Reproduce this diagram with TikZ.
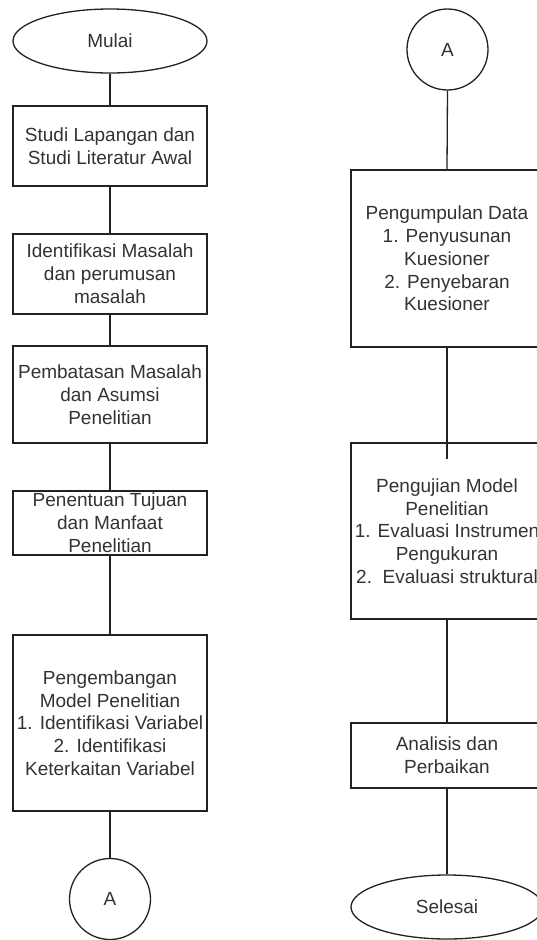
\documentclass[tikz,border=0pt]{standalone}
\usepackage{fontspec}
\setmainfont{Liberation Sans}
\usetikzlibrary{shapes.geometric}
\definecolor{ln}{HTML}{222222}
\definecolor{tx}{HTML}{333333}
\tikzset{
  base/.style={draw=ln, line width=1.3pt, fill=white, text=tx, align=center, inner sep=0pt,
    font=\fontsize{19}{22.8}\selectfont},
  lbox/.style={base, rectangle, minimum width=194pt},
  rbox/.style={base, rectangle, minimum width=192pt},
  term/.style={base, ellipse, minimum height=64pt},
  conn/.style={base, circle, minimum size=81pt},
  link/.style={draw=ln, line width=1.3pt}
}
\begin{document}
\begin{tikzpicture}[x=1pt,y=-1pt]
\useasboundingbox (0,0) rectangle (537,940);
\clip (0,0) rectangle (537,940);
% left column
\node[term, minimum width=194pt] (mulai) at (110,41) {Mulai};
\node[lbox, minimum height=80pt] (b1) at (110,146) {Studi Lapangan dan\\Studi Literatur Awal};
\node[lbox, minimum height=80pt] (b2) at (110,274) {Identifikasi Masalah\\dan perumusan\\masalah};
\node[lbox, minimum height=97pt] (b3) at (110,394.5) {Pembatasan Masalah\\dan Asumsi\\Penelitian};
\node[lbox, minimum height=64pt] (b4) at (110,523) {Penentuan Tujuan\\dan Manfaat\\Penelitian};
\node[lbox, minimum height=176pt] (b5) at (110,723) {Pengembangan\\Model Penelitian\\1. Identifikasi Variabel\\2. Identifikasi\\Keterkaitan Variabel};
\node[conn] (a1) at (110,899) {A};
% right column
\node[conn] (a2) at (447.5,49.5) {A};
\node[rbox, minimum height=177pt] (r1) at (447,258.5) {Pengumpulan Data\\1. Penyusunan\\Kuesioner\\2. Penyebaran\\Kuesioner};
\node[rbox, minimum height=176pt] (r2) at (447,531) {Pengujian Model\\Penelitian\\1. Evaluasi Instrumen\\Pengukuran\\2.\ \ Evaluasi struktural};
\node[rbox, minimum height=65pt] (r3) at (447,755.5) {Analisis dan\\Perbaikan};
\node[term, minimum width=192pt] (selesai) at (447,907) {Selesai};
\coordinate (r2in) at (447,459);
% connectors
\draw[link] (mulai.south) -- (b1.north);
\draw[link] (b1.south) -- (b2.north);
\draw[link] (b2.south) -- (b3.north);
\draw[link] (b3.south) -- (b4.north);
\draw[link] (b4.south) -- (b5.north);
\draw[link] (b5.south) -- (a1.north);
\draw[link] (a2.south) -- (r1.north);
\draw[link] (r1.south) -- (r2in);
\draw[link] (r2.south) -- (r3.north);
\draw[link] (r3.south) -- (selesai.north);
\end{tikzpicture}
\end{document}
